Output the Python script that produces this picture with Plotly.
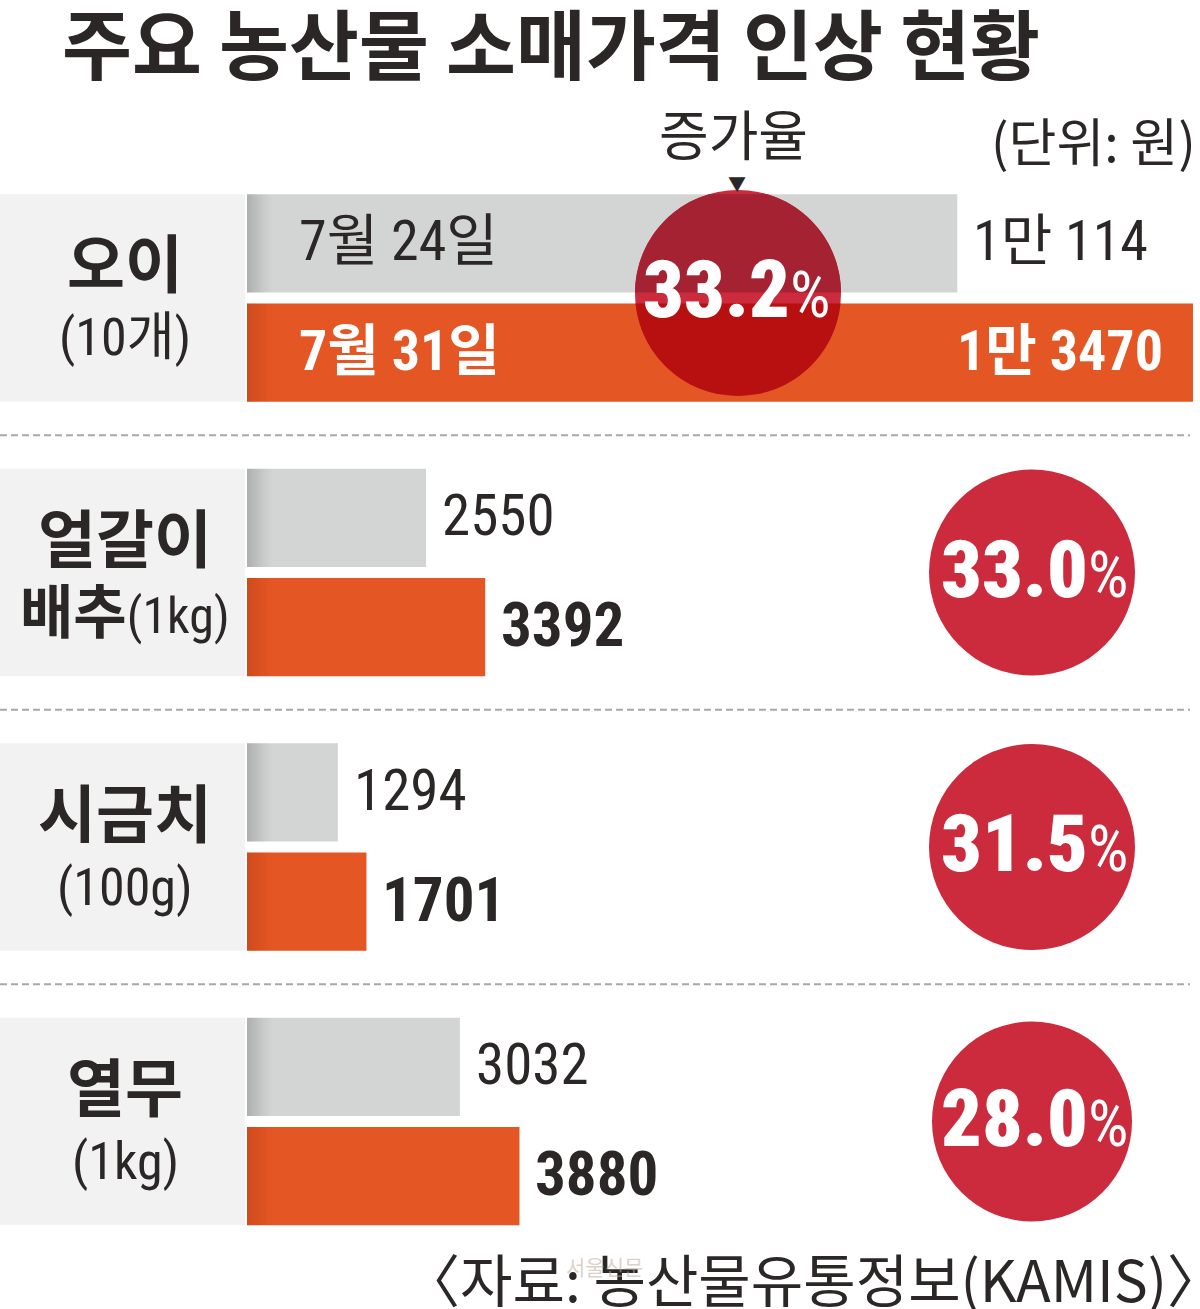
import math
import plotly.graph_objects as go

# ---------------- data ----------------
items_top = ["오이", "얼갈이", "시금치", "열무"]
items_bold_prefix = ["", "배추", "", ""]
items_unit = ["(10개)", "(1kg)", "(100g)", "(1kg)"]
price_jul24 = [10114, 2550, 1294, 3032]
price_jul31 = [13470, 3392, 1701, 3880]
series_names = ["7월 24일", "7월 31일"]
title_text = "주요 농산물 소매가격 인상 현황"
rate_label = "증가율"
unit_note = "(단위: 원)"
source_note = "〈자료: 농산물유통정보(KAMIS)〉"
watermark = "서울신문"

# ---------------- geometry / style ----------------
W, H = 1200, 1309
BAR_X0 = 247
X_MAX = 13570
PPX = (W - BAR_X0) / X_MAX
Y_TOP = 160.75
ROW = 274.5
BARGAP = 0.204
GROUPGAP = 0.1
HALF = (1 - BARGAP) / 2
SLOT = HALF
BW = SLOT * (1 - GROUPGAP)

GRAY = "#d3d5d5"
ORANGE = "#e45624"
RED = "#cc2a3d"
RED_ON_GRAY = "#a52232"
RED_ON_ORANGE = "#b81010"
DARK = "#2b2727"
PANEL = "#f2f2f2"

KR = "Noto Sans CJK KR"
NUM = "Roboto Condensed, Liberation Sans Narrow, Noto Sans CJK KR"

CIRCLE_CX = [738, 1032, 1032, 1032]
CIRCLE_DY = [-5, 0, 0, 0]
CIRCLE_R = [103, 103, 103, 100]
PCT_DX = [-2, 2, 2, 2]


def px2x(px):
    return (px - BAR_X0) / PPX


def py2y(py):
    return (py - Y_TOP) / ROW - 0.5


def y2py(y):
    return Y_TOP + (y + 0.5) * ROW


def fmt(v):
    if v >= 10000:
        return f"{v // 10000}만 {v % 10000}"
    return str(v)


n = len(items_top)
rows = list(range(n))

fig = go.Figure()
fig.add_trace(go.Bar(y=rows, x=price_jul24, orientation="h", name=series_names[0],
                     marker=dict(color=GRAY, line=dict(width=0)), hoverinfo="x"))
fig.add_trace(go.Bar(y=rows, x=price_jul31, orientation="h", name=series_names[1],
                     marker=dict(color=ORANGE, line=dict(width=0)), hoverinfo="x"))

shapes = []
ann = []

# label panels
for i in rows:
    shapes.append(dict(type="rect", xref="paper", yref="y", x0=0, x1=245 / W,
                       y0=i - HALF + SLOT * GROUPGAP / 2, y1=i + HALF - SLOT * GROUPGAP / 2,
                       fillcolor=PANEL, line=dict(width=0), layer="below"))

# soft shading at the left edge of each bar
NSTR = 10
for i in rows:
    for c, yc in [("rgba(0,0,0,", i - SLOT / 2), ("rgba(110,25,0,", i + SLOT / 2)]:
        for s in range(NSTR):
            op = 0.17 * (1 - s / NSTR) ** 1.3
            shapes.append(dict(type="rect", xref="x", yref="y",
                               x0=px2x(BAR_X0 + s * 2.5), x1=px2x(BAR_X0 + (s + 1) * 2.5),
                               y0=yc - BW / 2, y1=yc + BW / 2,
                               fillcolor=c + f"{op:.3f})", line=dict(width=0), layer="above"))

# dashed separators
for i in rows[:-1]:
    shapes.append(dict(type="line", xref="paper", yref="y", x0=0, x1=1190 / W,
                       y0=i + 0.5, y1=i + 0.5, line=dict(color="#a8a8a8", width=2.2, dash="7px,4px")))


def strip_path(cx, cy, r, ya, yb, steps=40):
    ya = max(ya, cy - r)
    yb = min(yb, cy + r)
    pts_r, pts_l = [], []
    for s in range(steps + 1):
        y = ya + (yb - ya) * s / steps
        dx = math.sqrt(max(r * r - (y - cy) ** 2, 0))
        pts_r.append((cx + dx, y))
        pts_l.append((cx - dx, y))
    pts = pts_r + pts_l[::-1]
    return "M " + " L ".join(f"{px2x(x):.3f},{py2y(y):.5f}" for x, y in pts) + " Z"


# growth-rate circles
for i in rows:
    a, b = price_jul24[i], price_jul31[i]
    pct = (b - a) / a * 100
    cx = CIRCLE_CX[i]
    cy = y2py(i) + CIRCLE_DY[i]
    r = CIRCLE_R[i]
    shapes.append(dict(type="circle", xref="x", yref="y",
                       x0=px2x(cx - r), x1=px2x(cx + r), y0=py2y(cy - r), y1=py2y(cy + r),
                       fillcolor=RED, line=dict(width=0), layer="above"))
    if i == 0:
        for yc, col in [(i - SLOT / 2, RED_ON_GRAY), (i + SLOT / 2, RED_ON_ORANGE)]:
            shapes.append(dict(type="path", xref="x", yref="y",
                               path=strip_path(cx, cy, r, y2py(yc - BW / 2), y2py(yc + BW / 2)),
                               fillcolor=col, line=dict(width=0), layer="above"))
    ann.append(dict(x=px2x(cx + PCT_DX[i]), y=py2y(cy - 3), xref="x", yref="y",
                    text=f"{pct:.1f}<span style='font-size:64px;font-weight:normal'>%</span>",
                    showarrow=False, xanchor="center", yanchor="middle",
                    font=dict(family=NUM, size=80, color="white", weight=900)))

# value labels
for i in rows:
    for k, v in enumerate([price_jul24[i], price_jul31[i]]):
        yc = i - SLOT / 2 if k == 0 else i + SLOT / 2
        inside = v > 0.8 * X_MAX
        bold = k == 1
        if i == 0:
            fs = 56
        else:
            fs = 61 if bold else 57
        ann.append(dict(x=v, y=yc, xref="x", yref="y", text=fmt(v), showarrow=False,
                        xanchor="right" if inside else "left", yanchor="middle",
                        xshift=-28 if inside else 14, yshift=2,
                        font=dict(family=NUM, size=fs,
                                  color="white" if inside else DARK,
                                  weight="bold" if bold else "normal")))
    if i == 0:
        for k, nm in enumerate(series_names):
            yc = i - SLOT / 2 if k == 0 else i + SLOT / 2
            ann.append(dict(x=0, y=yc, xref="x", yref="y", text=nm, showarrow=False,
                            xanchor="left", yanchor="middle", xshift=50, yshift=2,
                            font=dict(family=NUM, size=56, color=DARK if k == 0 else "white",
                                      weight="bold" if k == 1 else "normal")))

# category labels
for i in rows:
    ann.append(dict(x=125 / W, y=i, xref="paper", yref="y", text=items_top[i], showarrow=False,
                    xanchor="center", yanchor="middle", yshift=38,
                    font=dict(family=KR, size=63, color=DARK, weight="bold")))
    if items_bold_prefix[i]:
        txt = f"<b>{items_bold_prefix[i]}</b><span style='font-size:50px'>{items_unit[i]}</span>"
        fs = 58
    else:
        txt = items_unit[i]
        fs = 52
    ann.append(dict(x=125 / W, y=i, xref="paper", yref="y", text=txt, showarrow=False,
                    xanchor="center", yanchor="middle", yshift=-40,
                    font=dict(family=NUM, size=fs, color=DARK)))

# title and notes
ann.append(dict(x=551 / W, y=1 - 41 / H, xref="paper", yref="paper", text=f"<b>{title_text}</b>",
                showarrow=False, xanchor="center", yanchor="middle",
                font=dict(family=KR, size=76, color=DARK)))
ann.append(dict(x=733 / W, y=1 - 133 / H, xref="paper", yref="paper", text=rate_label,
                showarrow=False, xanchor="center", yanchor="middle",
                font=dict(family=KR, size=54, color=DARK)))
ann.append(dict(x=737 / W, y=1 - 183 / H, xref="paper", yref="paper", text="▼",
                showarrow=False, xanchor="center", yanchor="middle",
                font=dict(family=KR, size=18, color=DARK)))
ann.append(dict(x=1198 / W, y=1 - 140 / H, xref="paper", yref="paper", text=unit_note,
                showarrow=False, xanchor="right", yanchor="middle",
                font=dict(family=KR, size=52, color=DARK)))
ann.append(dict(x=1226 / W, y=1 - 1277 / H, xref="paper", yref="paper", text=source_note,
                showarrow=False, xanchor="right", yanchor="middle",
                font=dict(family=KR, size=57, color=DARK)))
ann.append(dict(x=604 / W, y=1 - 1266 / H, xref="paper", yref="paper", text=watermark,
                showarrow=False, xanchor="center", yanchor="middle",
                font=dict(family=KR, size=21, color="rgba(190,170,150,0.55)")))

fig.update_layout(
    width=W, height=H, margin=dict(l=0, r=0, t=0, b=0),
    paper_bgcolor="white", plot_bgcolor="white",
    barmode="group", bargap=BARGAP, bargroupgap=GROUPGAP,
    showlegend=False,
    xaxis=dict(domain=[BAR_X0 / W, 1], range=[0, X_MAX], visible=False, fixedrange=True),
    yaxis=dict(domain=[1 - (Y_TOP + n * ROW) / H, 1 - Y_TOP / H], range=[n - 0.5, -0.5],
               visible=False, fixedrange=True),
    shapes=shapes, annotations=ann,
)

fig.write_html("out.html", config={"displayModeBar": False},
               post_script="document.body.style.margin='0';document.body.style.overflow='hidden';")
